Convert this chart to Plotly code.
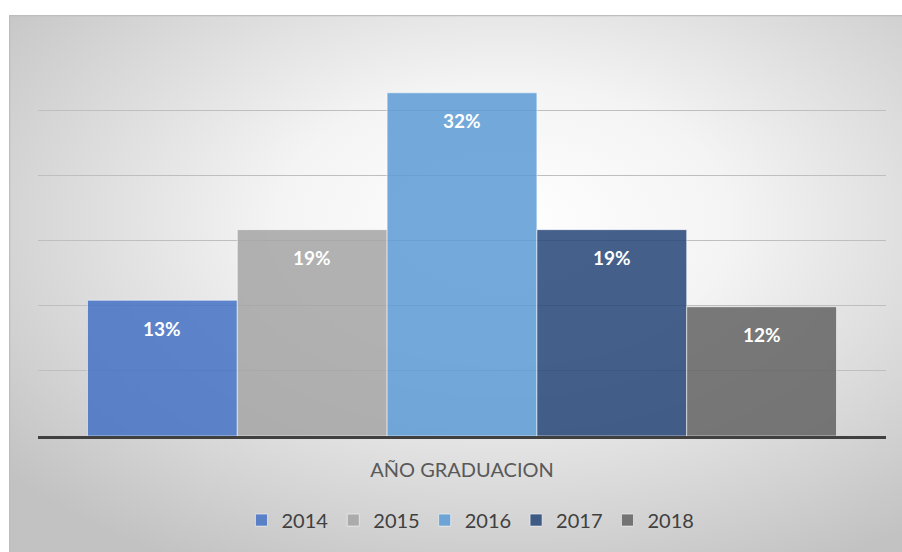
import plotly.graph_objects as go

category = ["AÑO GRADUACION"]
years = ["2014", "2015", "2016", "2017", "2018"]
shares = [0.125, 0.19, 0.316, 0.19, 0.119]
labels = ["13%", "19%", "32%", "19%", "12%"]
colors = ["rgba(68,114,196,0.85)", "rgba(165,165,165,0.85)", "rgba(91,155,213,0.85)",
          "rgba(38,68,120,0.85)", "rgba(99,99,99,0.85)"]

PLOT_W = 848
BARGAP = 0.1167
bar_px = PLOT_W * (1 - BARGAP) / len(years)

fig = go.Figure()
for yr, v, c in zip(years, shares, colors):
    fig.add_trace(go.Bar(
        x=category, y=[v], name=yr,
        marker=dict(color=c, line=dict(color="rgba(255,255,255,0.55)", width=1)),
        hoverinfo="skip",
    ))

n = len(years)
for i, (v, lab) in enumerate(zip(shares, labels)):
    fig.add_annotation(
        x=category[0], y=v, xref="x", yref="y", text="<b>%s</b>" % lab, showarrow=False,
        xshift=(i - (n - 1) / 2) * bar_px, yshift=-28,
        font=dict(family="Lato", size=19, color="white"),
    )

svg = ("data:image/svg+xml;utf8,<svg xmlns='http://www.w3.org/2000/svg' width='900' height='545' "
       "viewBox='0 0 900 545' preserveAspectRatio='none'>"
       "<defs><radialGradient id='g' cx='55%25' cy='38%25' r='72%25'>"
       "<stop offset='0' stop-color='%23ffffff'/><stop offset='0.35' stop-color='%23f4f4f4'/>"
       "<stop offset='1' stop-color='%23c2c2c2'/></radialGradient></defs>"
       "<rect width='900' height='545' fill='url(%23g)'/>"
       "<rect x='0.5' y='0.5' width='905' height='550' fill='none' stroke='%23bdbdbd' stroke-width='1.5'/></svg>")

fig.add_layout_image(dict(
    source=svg, xref="paper", yref="paper",
    x=(9 - 38) / 848, y=(436 - 15) / 391,
    sizex=900 / 848, sizey=545 / 391,
    xanchor="left", yanchor="top", sizing="stretch", layer="below",
))

fig.update_layout(
    width=902, height=552,
    margin=dict(l=38, r=16, t=45, b=116),
    paper_bgcolor="white", plot_bgcolor="rgba(0,0,0,0)",
    barmode="group", bargap=BARGAP, bargroupgap=0,
    showlegend=True,
    legend=dict(orientation="h", x=0.51, xanchor="center", y=-0.215, yanchor="middle",
                font=dict(family="Lato", size=20, color="#404040"),
                bgcolor="rgba(0,0,0,0)", itemwidth=30, traceorder="normal"),
    xaxis=dict(showline=True, linecolor="#404040", linewidth=3, ticks="",
               tickfont=dict(family="Lato", size=20, color="#595959"),
               ticklabelstandoff=14, showgrid=False, zeroline=False, fixedrange=True),
    yaxis=dict(range=[0, 0.36], dtick=0.06, showticklabels=False, showgrid=True,
               gridcolor="#bfbfbf", gridwidth=1, zeroline=False, showline=False, ticks="",
               fixedrange=True),
)

fig.write_html("out.html", config={"displayModeBar": False},
               post_script="document.body.style.margin='0';document.body.style.padding='0';")
